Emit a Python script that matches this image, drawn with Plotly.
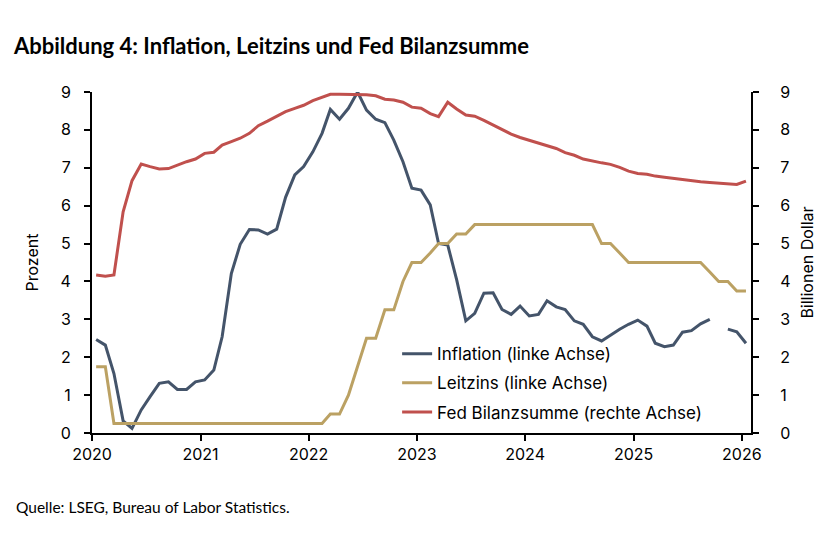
import plotly.graph_objects as go
import pandas as pd

# Monthly observations Jan 2020 – Jan 2026
months = pd.date_range("2020-01-01", "2026-01-01", freq="MS") + pd.Timedelta(days=14)

inflation = [
    2.47, 2.32, 1.57, 0.32, 0.12, 0.61, 0.96, 1.31, 1.35, 1.15, 1.15, 1.35,
    1.40, 1.66, 2.54, 4.21, 4.98, 5.37, 5.36, 5.25, 5.38, 6.22, 6.81, 7.03,
    7.42, 7.91, 8.54, 8.28, 8.57, 9.00, 8.52, 8.28, 8.19, 7.73, 7.16, 6.46,
    6.41, 6.02, 5.00, 4.96, 4.05, 2.96, 3.16, 3.69, 3.70, 3.26, 3.13, 3.35,
    3.09, 3.13, 3.49, 3.33, 3.26, 2.96, 2.87, 2.54, 2.43, 2.59, 2.74, 2.87,
    2.98, 2.82, 2.37, 2.28, 2.32, 2.66, 2.70, 2.88, 3.00, None, 2.74, 2.67,
    2.37,
]

leitzins = [
    1.75, 1.75, 0.25, 0.25, 0.25, 0.25, 0.25, 0.25, 0.25, 0.25, 0.25, 0.25,
    0.25, 0.25, 0.25, 0.25, 0.25, 0.25, 0.25, 0.25, 0.25, 0.25, 0.25, 0.25,
    0.25, 0.25, 0.50, 0.50, 1.00, 1.75, 2.50, 2.50, 3.25, 3.25, 4.00, 4.50,
    4.50, 4.75, 5.00, 5.00, 5.25, 5.25, 5.50, 5.50, 5.50, 5.50, 5.50, 5.50,
    5.50, 5.50, 5.50, 5.50, 5.50, 5.50, 5.50, 5.50, 5.00, 5.00, 4.75, 4.50,
    4.50, 4.50, 4.50, 4.50, 4.50, 4.50, 4.50, 4.50, 4.25, 4.00, 4.00, 3.75,
    3.75,
]

fed_bilanz = [
    4.17, 4.14, 4.17, 5.84, 6.66, 7.10, 7.03, 6.97, 6.98, 7.07, 7.16, 7.23,
    7.38, 7.41, 7.60, 7.69, 7.78, 7.91, 8.11, 8.23, 8.36, 8.48, 8.57, 8.65,
    8.77, 8.85, 8.94, 8.94, 8.94, 8.94, 8.93, 8.90, 8.81, 8.79, 8.73, 8.60,
    8.57, 8.43, 8.35, 8.73, 8.55, 8.39, 8.36, 8.25, 8.13, 8.01, 7.89, 7.80,
    7.73, 7.66, 7.59, 7.51, 7.40, 7.33, 7.23, 7.17, 7.13, 7.09, 7.01, 6.91,
    6.85, 6.83, 6.78, 6.75, 6.72, 6.68, 6.66, 6.63, 6.61, 6.59, 6.58, 6.56,
    6.65,
]

y_ticks = [0, 1, 2, 3, 4, 5, 6, 7, 8, 9]

BLUE = "#44546A"
GOLD = "#BBA163"
RED = "#C0504D"
FONT = "Inter"

fig = go.Figure()
fig.add_trace(go.Scatter(x=months, y=inflation, mode="lines", name="Inflation (linke Achse)",
                         line=dict(color=BLUE, width=3), connectgaps=False,
                         legendgroup="a", yaxis="y"))
fig.add_trace(go.Scatter(x=months, y=leitzins, mode="lines", name="Leitzins (linke Achse)",
                         line=dict(color=GOLD, width=3), legendgroup="b", yaxis="y"))
fig.add_trace(go.Scatter(x=months, y=fed_bilanz, mode="lines", name="Fed Bilanzsumme (rechte Achse)",
                         line=dict(color=RED, width=3), legendgroup="c", yaxis="y2"))

axis_common = dict(showline=True, linecolor="black", linewidth=2, ticks="outside",
                   ticklen=6, tickwidth=2, tickcolor="black", showgrid=False, zeroline=False,
                   tickfont=dict(family=FONT, size=16, color="black"))

fig.update_layout(
    width=825, height=539,
    margin=dict(l=84, r=82, t=84, b=114),
    paper_bgcolor="white", plot_bgcolor="white",
    font=dict(family=FONT, size=16, color="black"),
    title=dict(text="<b>Abbildung 4: Inflation, Leitzins und Fed Bilanzsumme</b>",
               x=6 / 825, xanchor="left", xref="container",
               y=1 - 38 / 539, yanchor="middle", yref="container",
               font=dict(family="Lato", size=22, color="black")),
    xaxis=dict(**axis_common, range=["2020-01-01", "2026-02-01"], type="date",
               tick0="2020-01-01", dtick="M12", tickformat="%Y"),
    yaxis=dict(**axis_common, range=[0, 9], tickvals=y_ticks, ticklabelstandoff=10,
               title=dict(text="Prozent", standoff=18, font=dict(family=FONT, size=16))),
    yaxis2=dict(**axis_common, range=[0, 9], tickvals=y_ticks, overlaying="y", side="right",
                ticklabelstandoff=18,
                title=dict(text="Billionen Dollar", standoff=12, font=dict(family=FONT, size=16))),
    showlegend=True,
    legend=dict(x=0.463, y=0.284, xanchor="left", yanchor="top", bgcolor="rgba(0,0,0,0)",
                traceorder="grouped", tracegroupgap=4,
                font=dict(family=FONT, size=17, color="black")),
    annotations=[dict(text="Quelle: LSEG, Bureau of Labor Statistics.", xref="paper", yref="paper",
                      x=(14 - 92) / 659, y=(433 - 507) / 341, xanchor="left", yanchor="middle",
                      showarrow=False, font=dict(family="Lato", size=15.5, color="black"))],
)

fig.write_html("out.html")
